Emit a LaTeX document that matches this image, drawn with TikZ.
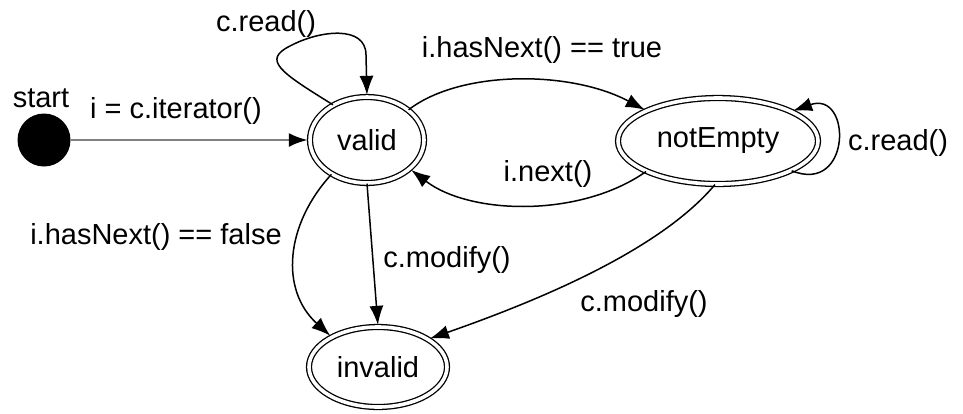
\documentclass[tikz,border=0pt]{standalone}
\usepackage{fontspec}
\setmainfont{Liberation Sans}
\usetikzlibrary{shapes.geometric,arrows.meta}
\begin{document}
\begin{tikzpicture}[x=1pt,y=-1pt,
  every node/.style={font=\fontsize{29}{32}\selectfont},
  state/.style={ellipse,draw,double,double distance=3.6pt,line width=1.3pt,inner sep=0pt},
  edge/.style={line width=1.5pt,-{Latex[length=19pt,width=14pt,color=black]},shorten >=1.5pt},
  lbl/.style={inner sep=0pt}]
\useasboundingbox (0,0) rectangle (963,413);
\node[circle,fill=black,minimum size=53pt,inner sep=0pt] (start) at (44,140) {};
\node[lbl] (startlbl) at (41,98) {start};
\node[state,minimum width=114pt,minimum height=86pt] (valid) at (367,140) {valid};
\node[state,minimum width=200pt,minimum height=86pt] (ne) at (718,141) {notEmpty};
\node[state,minimum width=138pt,minimum height=80pt] (inv) at (378,367) {invalid};

\draw[edge,draw=black!50,line width=2.8pt] (start) -- (valid)
  node[lbl,midway,above=14pt,xshift=-14pt] (l1) {i = c.iterator()};
\draw[edge] (valid.134) .. controls (280,72) and (262,60) .. (290,46)
  .. controls (320,30) and (366,25) .. (366,55) -- (valid.north);
\node[lbl] (l2) at (266,24) {c.read()};
\draw[edge] (valid.36) .. controls (460,70) and (570,70) .. (ne.157);
\node[lbl] (l3) at (542,50) {i.hasNext() == true};
\draw[edge] (ne.203) .. controls (580,218) and (470,215) .. (valid.-34);
\node[lbl] (l4) at (548,174) {i.next()};
\draw[edge] (ne.-22) .. controls (852,195) and (852,90) .. (ne.22);
\node[lbl] (l5) at (898,143) {c.read()};
\draw[edge] (valid.-136) .. controls (285,225) and (280,290) .. (inv.147);
\node[lbl] (l6) at (156,237) {i.hasNext() == false};
\draw[edge] (valid.south) -- (inv.north);
\node[lbl] (l7) at (447,260) {c.modify()};
\draw[edge] (ne.-94) .. controls (660,250) and (540,300) .. (inv.29);
\node[lbl] (l8) at (644,304) {c.modify()};
\end{tikzpicture}
\end{document}
